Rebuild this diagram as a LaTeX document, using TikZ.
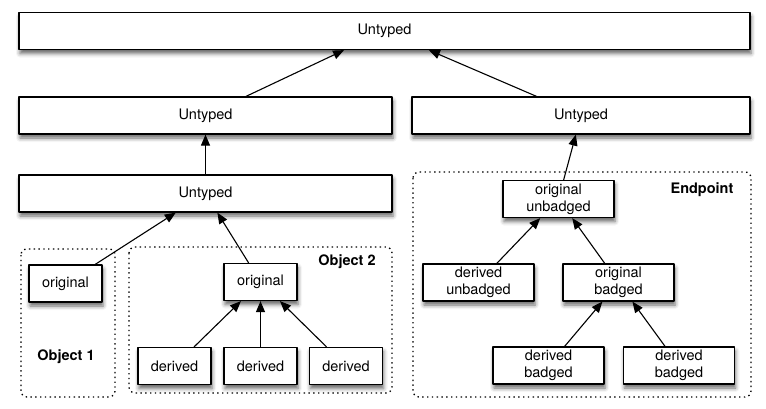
\documentclass[tikz,border=0pt]{standalone}
\usepackage{fontspec}
\setmainfont{TeX Gyre Heros}
\usetikzlibrary{arrows.meta,shadows.blur}

\begin{document}
\begin{tikzpicture}[x=1pt,y=-1pt,>={Triangle[length=11pt,width=9pt]},line join=round,
	font=\fontsize{14.5}{17}\selectfont,
	box/.style={draw,line width=1.2pt,fill=white,inner sep=0pt,align=center,minimum height=37pt,
		blur shadow={shadow xshift=1pt,shadow yshift=-4pt,shadow blur radius=4pt,shadow opacity=60}},
	region/.style={draw,line width=1.3pt,dash pattern=on 1.4pt off 3.4pt,rounded corners=6pt},
	tag/.style={font=\fontsize{14.5}{17}\selectfont\bfseries},
	link/.style={->,line width=1.1pt}]
	\useasboundingbox (0,0) rectangle (766,408);
	\draw[region] (21,249) rectangle (115,397);
	\draw[region] (129,247) rectangle (392,393);
	\draw[region] (413,172) rectangle (751,397);
	\node[tag] (obj1) at (66,357) {Object 1};
	\node[tag] (obj2) at (347,262) {Object 2};
	\node[tag] (endp) at (702,190) {Endpoint};

	\node[box,minimum width=731pt] (top) at (384.5,31) {Untyped};
	\node[box,minimum width=373pt] (left) at (205.5,115.5) {Untyped};
	\node[box,minimum width=338pt] (right) at (581,115.5) {Untyped};
	\node[box,minimum width=373pt] (base) at (205.5,193.5) {Untyped};
	\node[box,minimum width=73pt] (orig1) at (65.5,283.5) {original};
	\node[box,minimum width=73pt] (orig2) at (260.5,282) {original};
	\foreach \x [count=\i] in {174.5,260.5,346}
		\node[box,minimum width=73pt] (der\i) at (\x,366) {derived};
	\node[box,minimum width=111pt] (ounb) at (558.5,199) {original\\unbadged};
	\node[box,minimum width=111pt] (dunb) at (478.5,282.5) {derived\\unbadged};
	\node[box,minimum width=111pt] (obad) at (618.5,282.5) {original\\badged};
	\node[box,minimum width=111pt] (dbad1) at (548.5,365.5) {derived\\badged};
	\node[box,minimum width=111pt] (dbad2) at (679,365.5) {derived\\badged};

	\draw[link] (left) -- (top);
	\draw[link] (right) -- (top);
	\draw[link] (base) -- (left);
	\draw[link] (ounb) -- (right);
	\draw[link] (orig1) -- (base);
	\draw[link] (orig2) -- (base);
	\foreach \i in {1,2,3}
		\draw[link] (der\i) -- (orig2);
	\draw[link] (dunb) -- (ounb);
	\draw[link] (obad) -- (ounb);
	\draw[link] (dbad1) -- (obad);
	\draw[link] (dbad2) -- (obad);
\end{tikzpicture}
\end{document}
